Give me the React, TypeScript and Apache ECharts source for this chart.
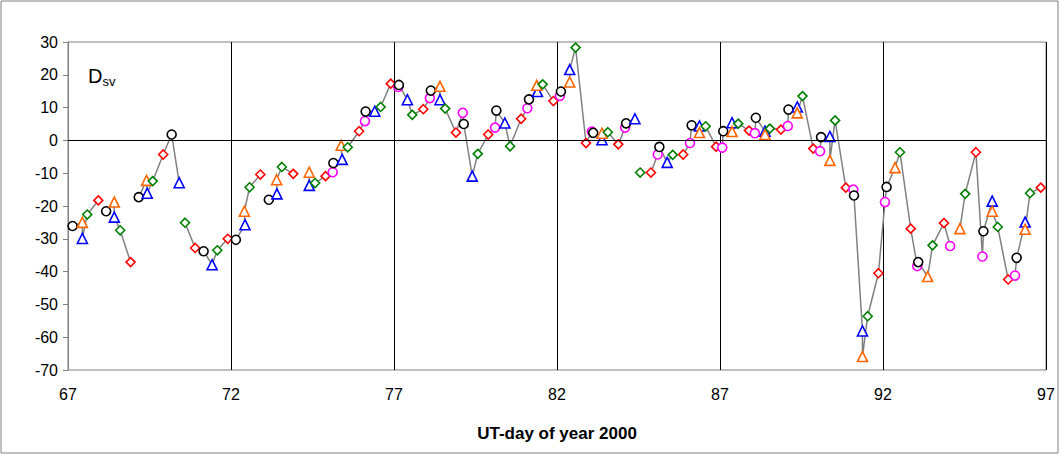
import React, { useEffect, useRef } from "react";
import * as echarts from "echarts";

// null = gap in the connecting line
const days: (number | null)[] = [
  67.14, 67.44, 67.44, 67.59, 67.93, null,
  68.17, 68.42, 68.42, 68.6, 68.92, null,
  69.17, 69.41, 69.43, 69.6, 69.92, 70.18, 70.41, null,
  70.59, 70.9, 71.16, 71.42, 71.58, 71.9, 72.15, 72.43, 72.41, 72.57, 72.9, null,
  73.16, 73.41, 73.4, 73.56, 73.91, null,
  74.4, 74.4, 74.58, 74.9, 75.12, 75.14, 75.41, 75.38, 75.58, 75.93, 76.11, 76.13, 76.41, 76.59, 76.9,
  77.13, 77.15, 77.41, 77.56, 77.9, 78.1, 78.13, 78.41, 78.41, 78.57, 78.9, 79.11, 79.14, 79.4, 79.57, 79.89,
  80.1, 80.14, 80.4, 80.56, 80.9, 81.09, 81.14, 81.4, 81.38, 81.56, 81.89, 82.09, 82.12, 82.39, 82.39, 82.57, 82.89,
  83.07, 83.11, 83.38, 83.38, 83.56, 83.88, 84.09, 84.12, 84.39, null,
  84.55, 84.88, 85.09, 85.14, 85.38, 85.55, 85.87, 86.08, 86.13, 86.37, 86.37, 86.56, 86.88,
  87.07, 87.1, 87.37, 87.37, 87.56, 87.89, 88.07, 88.1, 88.38, 88.38, 88.53, 88.87,
  89.08, 89.1, 89.37, 89.37, 89.53, 89.86, 90.07, 90.1, 90.37, 90.37, 90.53, 90.86,
  91.09, 91.11, 91.37, 91.37, 91.53, 91.86, 92.06, 92.11, 92.37, 92.52, 92.85,
  93.05, 93.08, 93.37, 93.52, 93.87, 94.06, null,
  94.36, 94.52, 94.85, 95.05, 95.08, 95.35, 95.35, 95.52, 95.84, 96.05, 96.1, 96.36, 96.36, 96.51, 96.84,
];
const dsv: (number | null)[] = [
  -26.1, -25.0, -29.9, -22.6, -18.3, null,
  -21.6, -18.8, -23.4, -27.4, -37.1, null,
  -17.3, -12.2, -16.1, -12.4, -4.3, 1.8, -12.9, null,
  -25.1, -32.8, -33.8, -37.9, -33.5, -30.0, -30.3, -25.7, -21.6, -14.3, -10.4, null,
  -18.1, -16.3, -12.0, -8.1, -10.2, null,
  -9.7, -13.7, -13.0, -10.9, -9.7, -6.9, -5.8, -1.5, -2.1, 2.8, 5.9, 8.8, 8.9, 10.2, 17.3,
  16.3, 16.9, 12.4, 7.8, 9.5, 12.9, 15.2, 16.5, 12.4, 9.7, 2.4, 8.4, 5.0, -10.9, -4.1, 1.8,
  3.9, 9.1, 5.3, -1.8, 6.6, 9.8, 12.5, 14.9, 16.8, 17.1, 12.0, 13.6, 14.9, 17.8, 21.6, 28.3, -0.8,
  2.7, 2.3, 0.2, 2.2, 2.5, -1.2, 3.9, 5.2, 6.6, null,
  -9.8, -9.8, -4.3, -2.0, -6.7, -4.4, -4.3, -0.8, 4.6, 4.4, 2.4, 4.3, -1.9,
  -2.2, 2.8, 5.4, 2.7, 5.1, 3.0, 2.2, 6.9, 2.8, 1.8, 3.6, 3.3,
  4.4, 9.4, 10.2, 8.4, 13.5, -2.5, -3.3, 1.0, 1.2, -6.1, 6.1, -14.4,
  -15.0, -16.8, -58.1, -65.9, -53.6, -40.5, -18.8, -14.2, -8.3, -3.6, -26.9,
  -38.3, -37.1, -41.5, -32.0, -25.2, -32.2, null,
  -26.9, -16.3, -3.6, -35.4, -27.7, -18.5, -21.6, -26.4, -42.4, -41.2, -35.8, -24.9, -27.1, -16.1, -14.4,
];
// c black circle, m magenta circle, t blue triangle, o orange triangle, g green diamond, r red diamond
const kinds: string[] = (
  "cotgr-" + "cotgr-" + "cotgrct-" + "grctgrctogr-" + "ctogr-" +
  "otgrmctogrmctgr" + "mctgrmcotgrmctgr" + "mctgrmctogrmcotgr" + "mctogrmct-" +
  "grmctgrmctogr" + "mctogrmctogr" + "mctogrmctogr" + "mctogrmcogr" + "mcogrm-" +
  "ogrmctogrmctogr"
).split("");

const styleOf: Record<string, { symbol: string; color: string; size: number }> = {
  c: { symbol: "circle", color: "#000000", size: 9 },
  m: { symbol: "circle", color: "#ff00ff", size: 9 },
  t: { symbol: "triangle", color: "#0000ff", size: 10 },
  o: { symbol: "triangle", color: "#ff6600", size: 10 },
  g: { symbol: "diamond", color: "#008000", size: 9 },
  r: { symbol: "diamond", color: "#ff0000", size: 9 },
};

const xTicks = [67, 72, 77, 82, 87, 92, 97];

export default function App() {
  const ref = useRef<HTMLDivElement>(null);
  useEffect(() => {
    const chart = echarts.init(ref.current!, null, { renderer: "svg" });
    const data = days.map((d, i) => {
      if (d === null || dsv[i] === null) return "-";
      const s = styleOf[kinds[i]] || styleOf.c;
      return {
        value: [d, dsv[i]],
        symbol: s.symbol,
        symbolSize: s.size,
        itemStyle: { color: "#ffffff", borderColor: s.color, borderWidth: 1.6 },
      };
    });
    chart.setOption({
      animation: false,
      textStyle: { fontFamily: "Liberation Sans, Arial, sans-serif" },
      grid: { left: 68, top: 42, width: 978, height: 328, show: true, borderColor: "#808080", borderWidth: 1, backgroundColor: "transparent" },
      xAxis: {
        type: "value", min: 67, max: 97, interval: 5,
        axisLine: { show: false }, axisTick: { show: false },
        axisLabel: { color: "#000", fontSize: 16, margin: 16, formatter: (v: number) => (xTicks.includes(v) ? String(v) : "") },
        splitLine: { show: true, lineStyle: { color: "#000", width: 1 } },
        name: "UT-day of year 2000", nameLocation: "middle", nameGap: 55,
        nameTextStyle: { color: "#000", fontSize: 17, fontWeight: "bold" },
      },
      yAxis: {
        type: "value", min: -70, max: 30, interval: 10,
        axisLine: { show: true, lineStyle: { color: "#808080" } },
        axisTick: { show: true, length: 5, lineStyle: { color: "#808080" } },
        axisLabel: { color: "#000", fontSize: 16, margin: 10 },
        splitLine: { show: false },
      },
      graphic: [
        { type: "rect", shape: { x: 1, y: 1, width: 1057, height: 452 }, style: { fill: "none", stroke: "#808080", lineWidth: 1 }, silent: true },
        {
          type: "text", left: 88, top: 66,
          style: { text: "{a|D}{b|sv}", rich: { a: { fontSize: 20, fill: "#000", fontFamily: "Liberation Sans" }, b: { fontSize: 13, fill: "#000", fontFamily: "Liberation Sans", padding: [10, 0, 0, 0] } } },
        },
      ],
      series: [
        {
          type: "line",
          data,
          connectNulls: false,
          lineStyle: { color: "#808080", width: 1.5 },
          markLine: {
            silent: true, symbol: "none", label: { show: false },
            lineStyle: { color: "#000", type: "solid", width: 1 },
            data: [{ yAxis: 0 }],
          },
          z: 3,
        },
      ],
    });
    return () => chart.dispose();
  }, []);
  return <div ref={ref} style={{ position: "fixed", left: 0, top: 0, width: 1060, height: 455, background: "#fff" }} />;
}
